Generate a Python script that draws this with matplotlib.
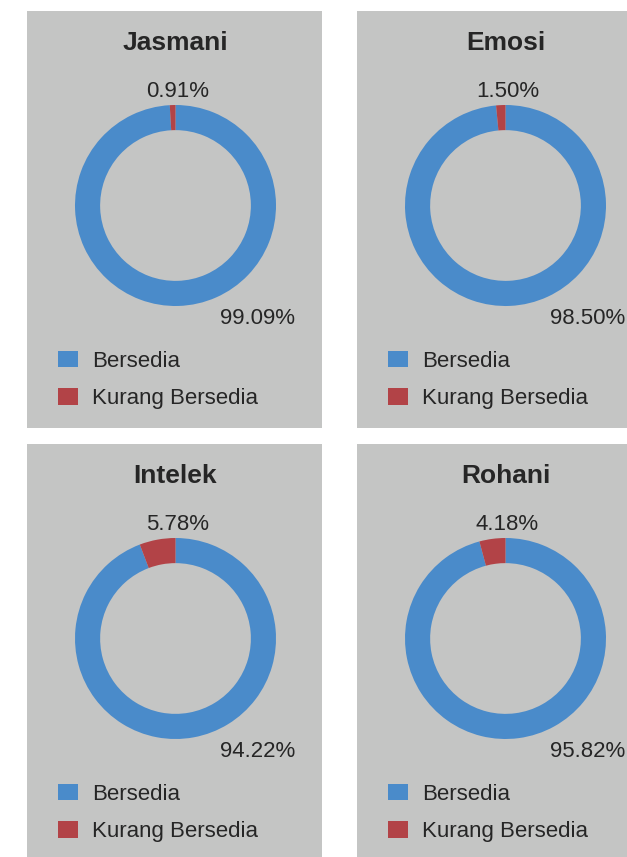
import matplotlib
matplotlib.use("Agg")
import matplotlib.pyplot as plt

plt.rcParams['font.family'] = ['Liberation Sans', 'DejaVu Sans']

# ---- data ----
titles = ["Jasmani", "Emosi", "Intelek", "Rohani"]
categories = ["Bersedia", "Kurang Bersedia"]
bersedia = [99.09, 98.50, 94.22, 95.82]
kurang = [0.91, 1.50, 5.78, 4.18]

# ---- style ----
W, H = 627, 857
BG = "#C4C5C4"
BLUE = "#4A8BCA"
RED = "#B24347"
TXT = "#262626"

fig = plt.figure(figsize=(W / 100, H / 100), dpi=100)
fig.patch.set_facecolor("white")

def fx(x):
    return x / W

def fy(y):
    return 1 - y / H

def clean(a):
    a.set_xticks([])
    a.set_yticks([])
    for s in a.spines.values():
        s.set_visible(False)

# panel origins (top-left, pixels) and sizes
panel_origins = [(27, 11), (357, 11), (27, 444), (357, 444)]
PW, PH = 295, 417

for i, (px, py) in enumerate(panel_origins):
    bg = fig.add_axes([fx(px), fy(py + PH), fx(PW), PH / H])
    bg.set_facecolor(BG)
    clean(bg)
    bg.set_zorder(0)

    cx = px + 148.5
    cy = py + 194.5
    R = 100.5
    ax = fig.add_axes([fx(cx - R), fy(cy + R), fx(2 * R), 2 * R / H])
    ax.set_zorder(2)
    ax.set_facecolor(BG)
    wedges, _ = ax.pie([bersedia[i], kurang[i]], colors=[BLUE, RED],
                       startangle=90, counterclock=False, radius=1,
                       wedgeprops=dict(width=0.25, edgecolor="none"))
    ax.set_xlim(-1, 1)
    ax.set_ylim(-1, 1)
    ax.set_aspect("equal")
    clean(ax)

    fig.text(fx(px + 148.5), fy(py + 39), titles[i], ha="center", va="baseline",
             fontsize=19, fontweight="bold", color=TXT, zorder=5)
    fig.text(fx(cx + 2), fy(py + 85.7), f"{kurang[i]:.2f}%", ha="center",
             va="baseline", fontsize=16, color=TXT, zorder=5)
    fig.text(fx(cx + 82), fy(py + 313), f"{bersedia[i]:.2f}%", ha="center",
             va="baseline", fontsize=16, color=TXT, zorder=5)
    ax.legend(wedges, categories, loc="center left",
              bbox_to_anchor=(fx(px + 31), fy(py + 369)),
              bbox_transform=fig.transFigure, frameon=False,
              fontsize=16, handlelength=0.92, handleheight=0.77,
              handletextpad=0.63, labelspacing=0.73, borderpad=0,
              borderaxespad=0, labelcolor=TXT)

fig.savefig("out.png", dpi=100, facecolor="white")
